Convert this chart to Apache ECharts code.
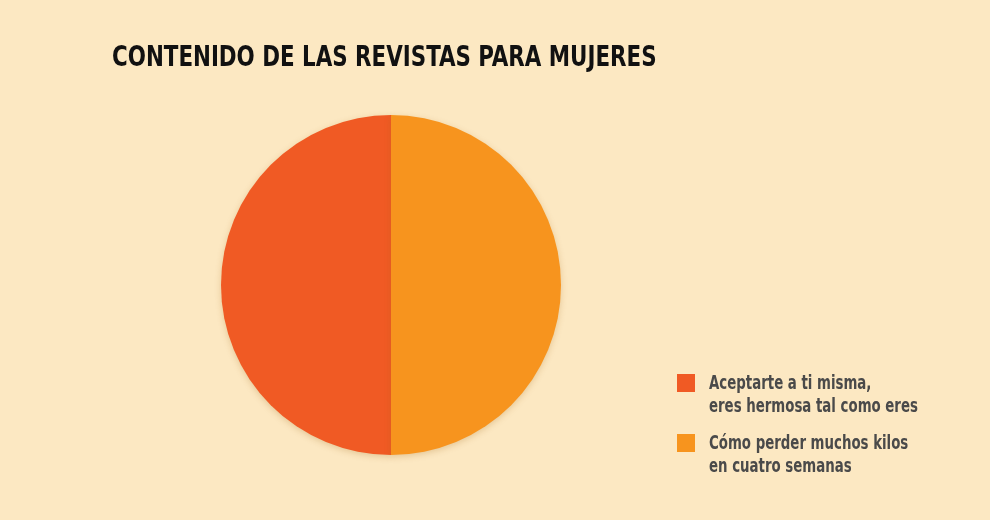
<!DOCTYPE html>
<html>
<head>
<meta charset="utf-8">
<script src="https://cdn.jsdelivr.net/npm/echarts@6/dist/echarts.min.js"></script>
<style>
  html, body { margin: 0; padding: 0; background: #fce8c2; }
  #chart { width: 990px; height: 520px; }
</style>
</head>
<body>
<div id="chart"></div>
<script>
const titleText = 'CONTENIDO DE LAS REVISTAS PARA MUJERES';
const categories = [
    'Aceptarte a ti misma,\neres hermosa tal como eres',
    'Cómo perder muchos kilos\nen cuatro semanas'
];
const values = [50, 50];
const colors = ['#f05a24', '#f7941e'];

const chart = echarts.init(document.getElementById('chart'));
// no condensed font installed, so squeeze DejaVu Condensed horizontally
const condensed = '"DejaVu Sans Condensed", sans-serif';

// legend drawn by hand: the library legend centres the icon on the whole 2-line label
const legendItems = [];
categories.forEach((name, i) => {
    const top = 374 + i * 60;
    legendItems.push({
        type: 'rect',
        x: 677,
        y: top,
        shape: { x: 0, y: 0, width: 18, height: 18 },
        style: { fill: colors[i] },
        silent: true
    });
    legendItems.push({
        type: 'text',
        x: 709,
        y: top - 1,
        scaleX: 0.78,
        style: {
            text: name,
            x: 0,
            y: 0,
            fill: '#4a4a4a',
            font: 'bold 19px ' + condensed,
            lineHeight: 23,
            verticalAlign: 'top'
        },
        silent: true
    });
});

chart.setOption({
    backgroundColor: '#fce8c2',
    animation: false,
    graphic: [{
        type: 'text',
        x: 112,
        y: 58.5,
        scaleX: 0.82,
        style: {
            text: titleText,
            x: 0,
            y: 0,
            fill: '#111',
            font: 'bold 29px ' + condensed,
            verticalAlign: 'middle'
        },
        silent: true
    }].concat(legendItems),
    series: [{
        type: 'pie',
        center: [391, 285],
        radius: 170,
        startAngle: 90,
        clockwise: false,
        label: { show: false },
        labelLine: { show: false },
        emphasis: { disabled: true },
        itemStyle: {
            borderWidth: 0,
            shadowBlur: 6,
            shadowOffsetY: 2,
            shadowColor: 'rgba(160, 100, 20, 0.25)'
        },
        data: categories.map((name, i) => ({
            name,
            value: values[i],
            itemStyle: { color: colors[i] }
        }))
    }]
});
</script>
</body>
</html>
